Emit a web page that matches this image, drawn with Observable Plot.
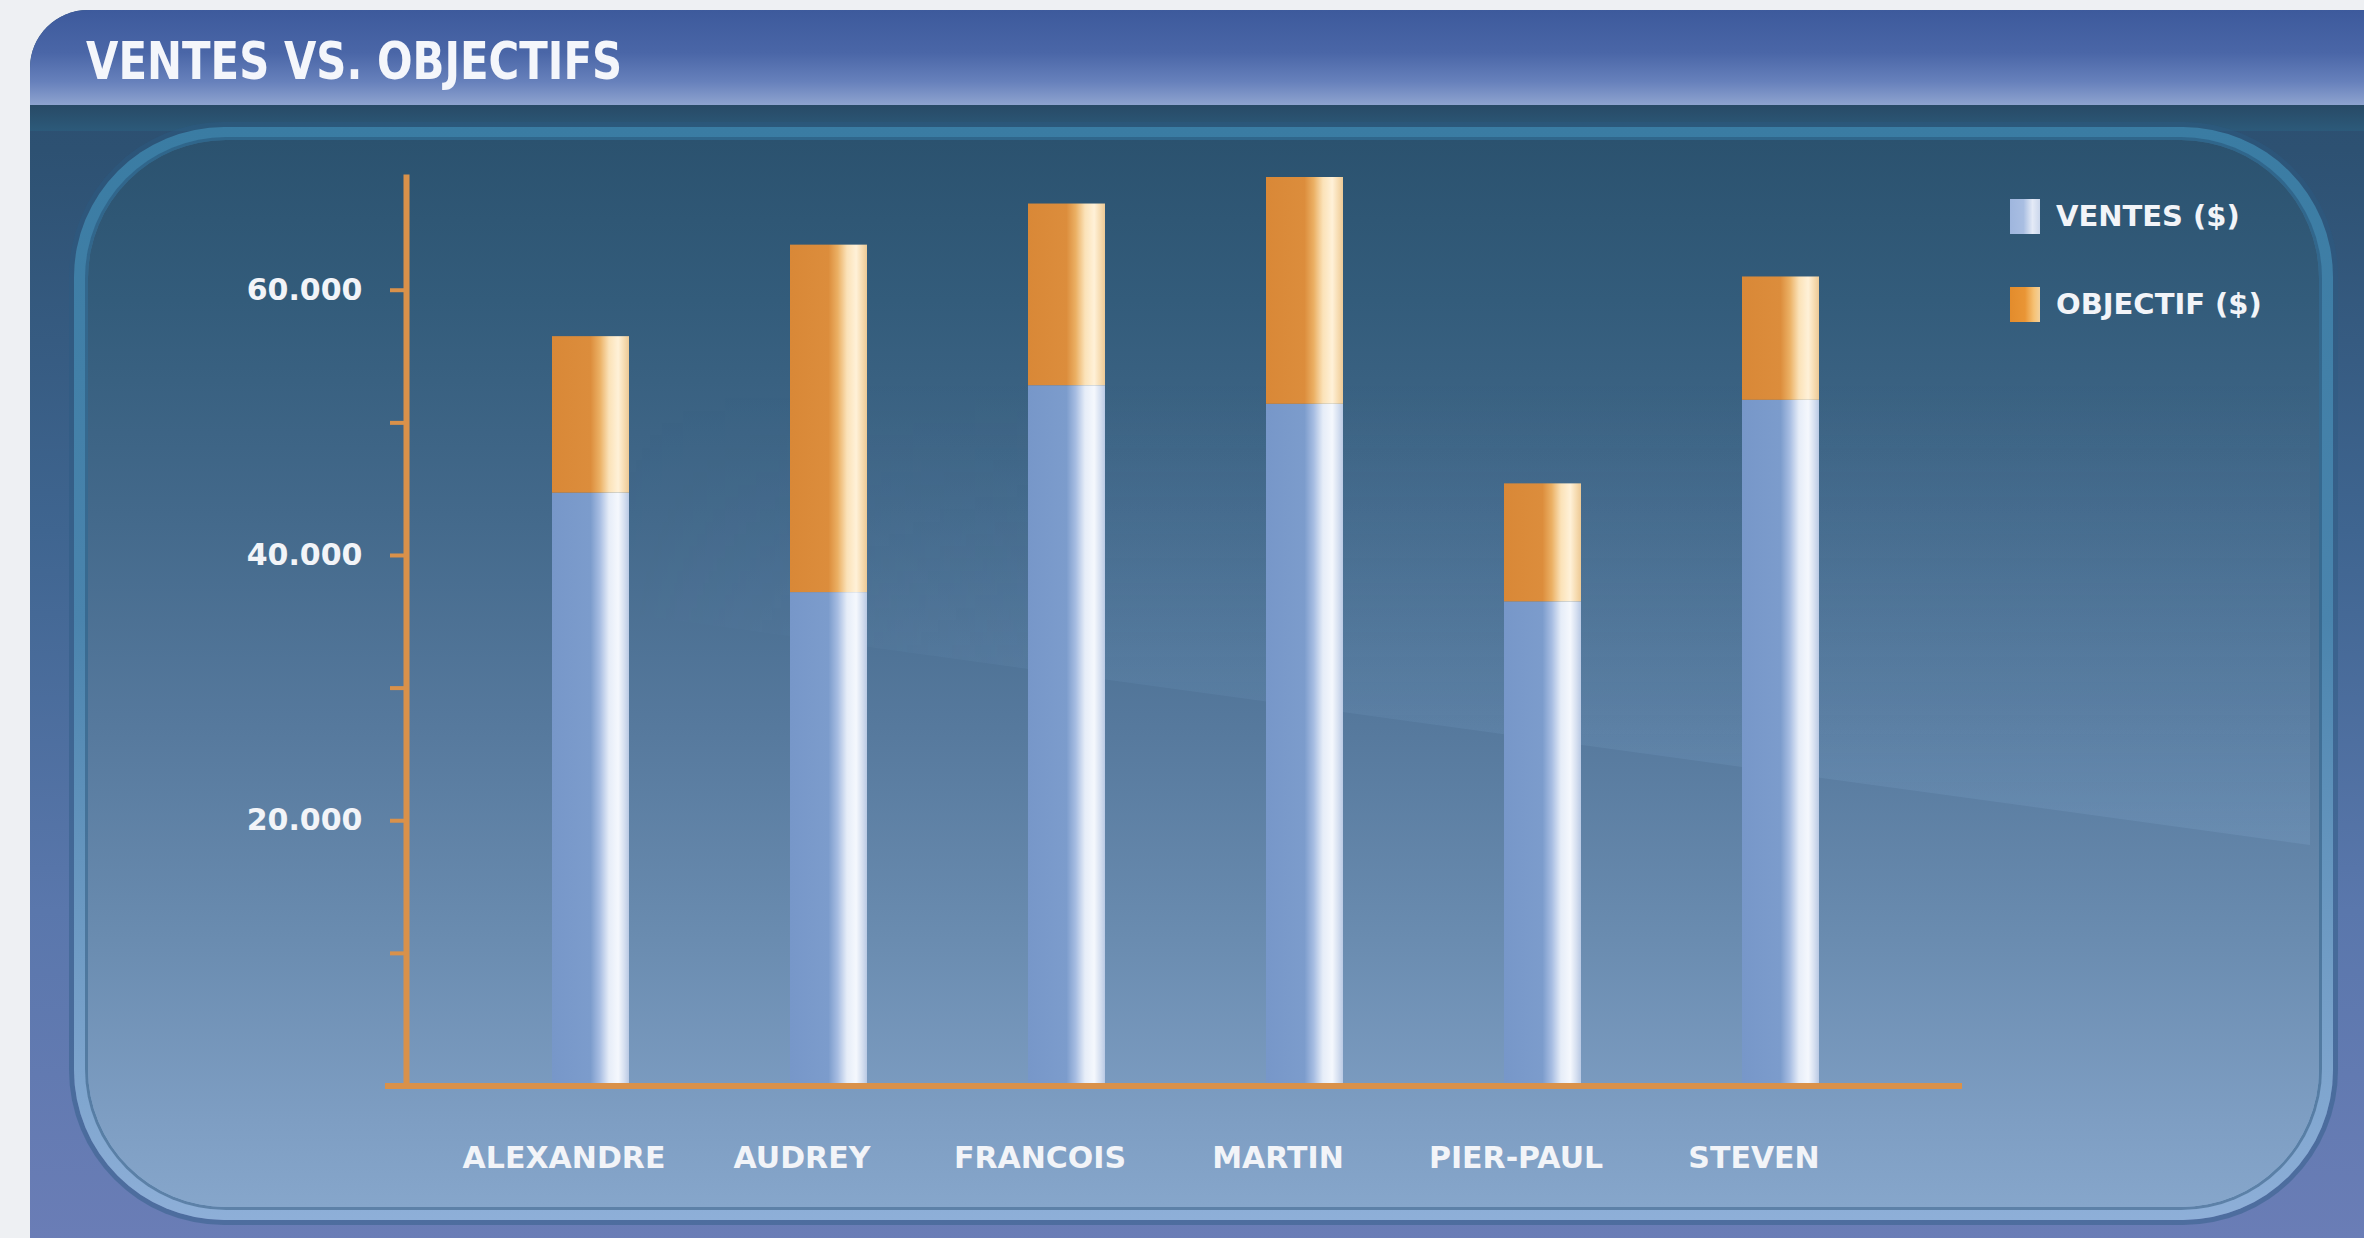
<!DOCTYPE html>
<html>
<head>
<meta charset="utf-8">
<script src="https://cdn.jsdelivr.net/npm/d3@7"></script>
<script src="https://cdn.jsdelivr.net/npm/@observablehq/plot@0.6"></script>
<style>
  html, body { margin: 0; padding: 0; background: #eef0f3; }
  #page { position: relative; width: 2364px; height: 1238px; overflow: hidden; background: #eef0f3; font-family: "DejaVu Sans", sans-serif; }
  .panel { position: absolute; left: 30px; top: 10px; width: 2334px; height: 1228px; border-top-left-radius: 58px; overflow: hidden;
    background: linear-gradient(to bottom, #2b4c70 0px, #2d5172 140px, #3f6590 520px, #5a77ac 900px, #6a7db6 1228px); }
  .header { position: absolute; left: 0; top: 0; width: 100%; height: 95px;
    background: linear-gradient(to bottom, #3d5a9c 0%, #4a66a7 45%, #6680bb 75%, #8ea3cf 100%); }
  .topband { position: absolute; left: 0; top: 95px; width: 100%; height: 26px;
    background: linear-gradient(to bottom, #284a66 0%, #2c5a7a 100%); }
  .ring { position: absolute; left: 44px; top: 117px; width: 2259px; height: 1093px; border-radius: 150px;
    background: linear-gradient(to bottom, #3a7ca3 0%, #4a84ad 45%, #8eafd8 100%); box-shadow: 0 0 0 5px rgba(45,90,130,0.45); }
  .inner { position: absolute; left: 14px; top: 13px; right: 14px; bottom: 13px; border-radius: 138px;
    box-shadow: 0 0 0 3px rgba(35,75,110,0.45);
    background: linear-gradient(to bottom, #2b526f 0%, #335c7b 15%, #43698b 35%, #56799d 55%, #6a8cb0 75%, #7e9ec3 92%, #86a6cb 100%); }
  .glare { position: absolute; left: 0; top: 0; width: 2364px; height: 1238px;
    clip-path: polygon(600px 610px, 2310px 845px, 2310px 150px, 600px 150px);
    background: linear-gradient(to bottom, rgba(140,185,225,0) 0px, rgba(140,185,225,0) 380px, rgba(140,185,225,0.10) 700px, rgba(150,190,230,0.16) 845px);
    -webkit-mask-image: linear-gradient(to right, rgba(0,0,0,0) 600px, rgba(0,0,0,1) 1100px);
    mask-image: linear-gradient(to right, rgba(0,0,0,0) 600px, rgba(0,0,0,1) 1100px); }
  #title { position: absolute; left: 86px; top: 35px; font-family: "DejaVu Sans", sans-serif; font-weight: bold; font-size: 52px; line-height: 52px;
    color: #f4f6fb; white-space: nowrap; transform: scaleX(0.805); transform-origin: left top; }
  #chart { position: absolute; left: 0; top: 105px; }
  #legend { position: absolute; left: 2010px; top: 198px; }
  .item { display: flex; align-items: center; height: 36px; margin-bottom: 52px; }
  .sw { width: 30px; height: 35px; margin-right: 16px; }
  .lab { font-family: "DejaVu Sans", sans-serif; font-weight: bold; font-size: 29px; color: #f2f4f8; white-space: nowrap; }
</style>
</head>
<body>
<div id="page">
  <div class="panel">
    <div class="header"></div>
    <div class="topband"></div>
    <div class="ring"><div class="inner"></div></div>
  </div>
  <div class="glare"></div>
  <div id="title"></div>
  <div id="legend"></div>
  <div id="chart"></div>
</div>
<script>
// ---- data ----
const titleText = "VENTES VS. OBJECTIFS";
const vendeurs = ["ALEXANDRE", "AUDREY", "FRANCOIS", "MARTIN", "PIER-PAUL", "STEVEN"];
const ventes = [44700, 37200, 52800, 51400, 36500, 51700];
const objectifs = [56500, 63400, 66500, 68500, 45400, 61000];
const seriesNames = ["VENTES ($)", "OBJECTIF ($)"];
const yTicks = [10000, 20000, 30000, 40000, 50000, 60000];
const yTickLabels = ["", "20.000", "", "40.000", "", "60.000"];

// ---- table ----
const rows = vendeurs.map((v, i) => ({vendeur: v, ventes: ventes[i], objectif: objectifs[i]}));

const orange = "#d9914a";

document.getElementById("title").textContent = titleText;

// legend
const swatchBg = [
  "linear-gradient(to right, #9fb6de 0%, #a9bee2 45%, #e4eaf6 75%, #cbd7ec 100%)",
  "linear-gradient(to right, #e38c2c 0%, #e99535 50%, #f6c275 80%, #f3d19c 100%)"
];
const legend = document.getElementById("legend");
seriesNames.forEach((name, i) => {
  const it = document.createElement("div");
  it.className = "item";
  const sw = document.createElement("div");
  sw.className = "sw";
  sw.style.background = swatchBg[i];
  const lab = document.createElement("div");
  lab.className = "lab";
  lab.textContent = name;
  it.appendChild(sw); it.appendChild(lab);
  legend.appendChild(it);
});

const chart = Plot.plot({
  width: 2364,
  height: 1133,
  marginLeft: 406,
  marginRight: 400,
  marginTop: 72,
  marginBottom: 152.5,
  style: {background: "transparent", color: "white", fontFamily: "DejaVu Sans, sans-serif", fontSize: "30px", fontWeight: "bold", overflow: "visible"},
  x: {domain: vendeurs, paddingInner: 0.6776, paddingOuter: 0.601, axis: null},
  y: {domain: [0, 68500], axis: null},
  marks: [
    Plot.barY(rows, {x: "vendeur", y1: 0, y2: "ventes", fill: "url(#gradBlue)"}),
    Plot.barY(rows, {x: "vendeur", y1: "ventes", y2: "objectif", fill: "url(#gradOrange)"}),
    Plot.frame({anchor: "left", stroke: orange, strokeWidth: 6}),
    Plot.ruleY([0], {stroke: orange, strokeWidth: 6, insetLeft: -21, insetRight: 2}),
    Plot.axisY({ticks: yTicks, tickFormat: d => yTickLabels[yTicks.indexOf(d)], tickSize: 16, tickPadding: 28,
      stroke: orange, strokeWidth: 4, fill: "#f2f4f8", label: null}),
    Plot.axisX({tickSize: 0, tickPadding: 61, dx: -27, fill: "#f2f4f8", label: null})
  ]
});

// gradient definitions for the bar fills
const defs = d3.select(chart).insert("defs", ":first-child");
function grad(id, stops) {
  const g = defs.append("linearGradient").attr("id", id).attr("x1", "0").attr("x2", "1").attr("y1", "0").attr("y2", "0");
  stops.forEach(([o, c]) => g.append("stop").attr("offset", o).attr("stop-color", c));
}
grad("gradBlue", [[0, "#7797c9"], [0.5, "#7c9ccc"], [0.62, "#a7bde2"], [0.74, "#e6edf8"], [0.86, "#f5f8fd"], [0.94, "#d5dff0"], [1, "#b9c9e4"]]);
grad("gradOrange", [[0, "#d98837"], [0.5, "#dc8d3c"], [0.62, "#ebb064"], [0.74, "#fbe2b8"], [0.86, "#fff1d8"], [0.94, "#f6dbb0"], [1, "#ecc996"]]);

document.getElementById("chart").appendChild(chart);
</script>
</body>
</html>
